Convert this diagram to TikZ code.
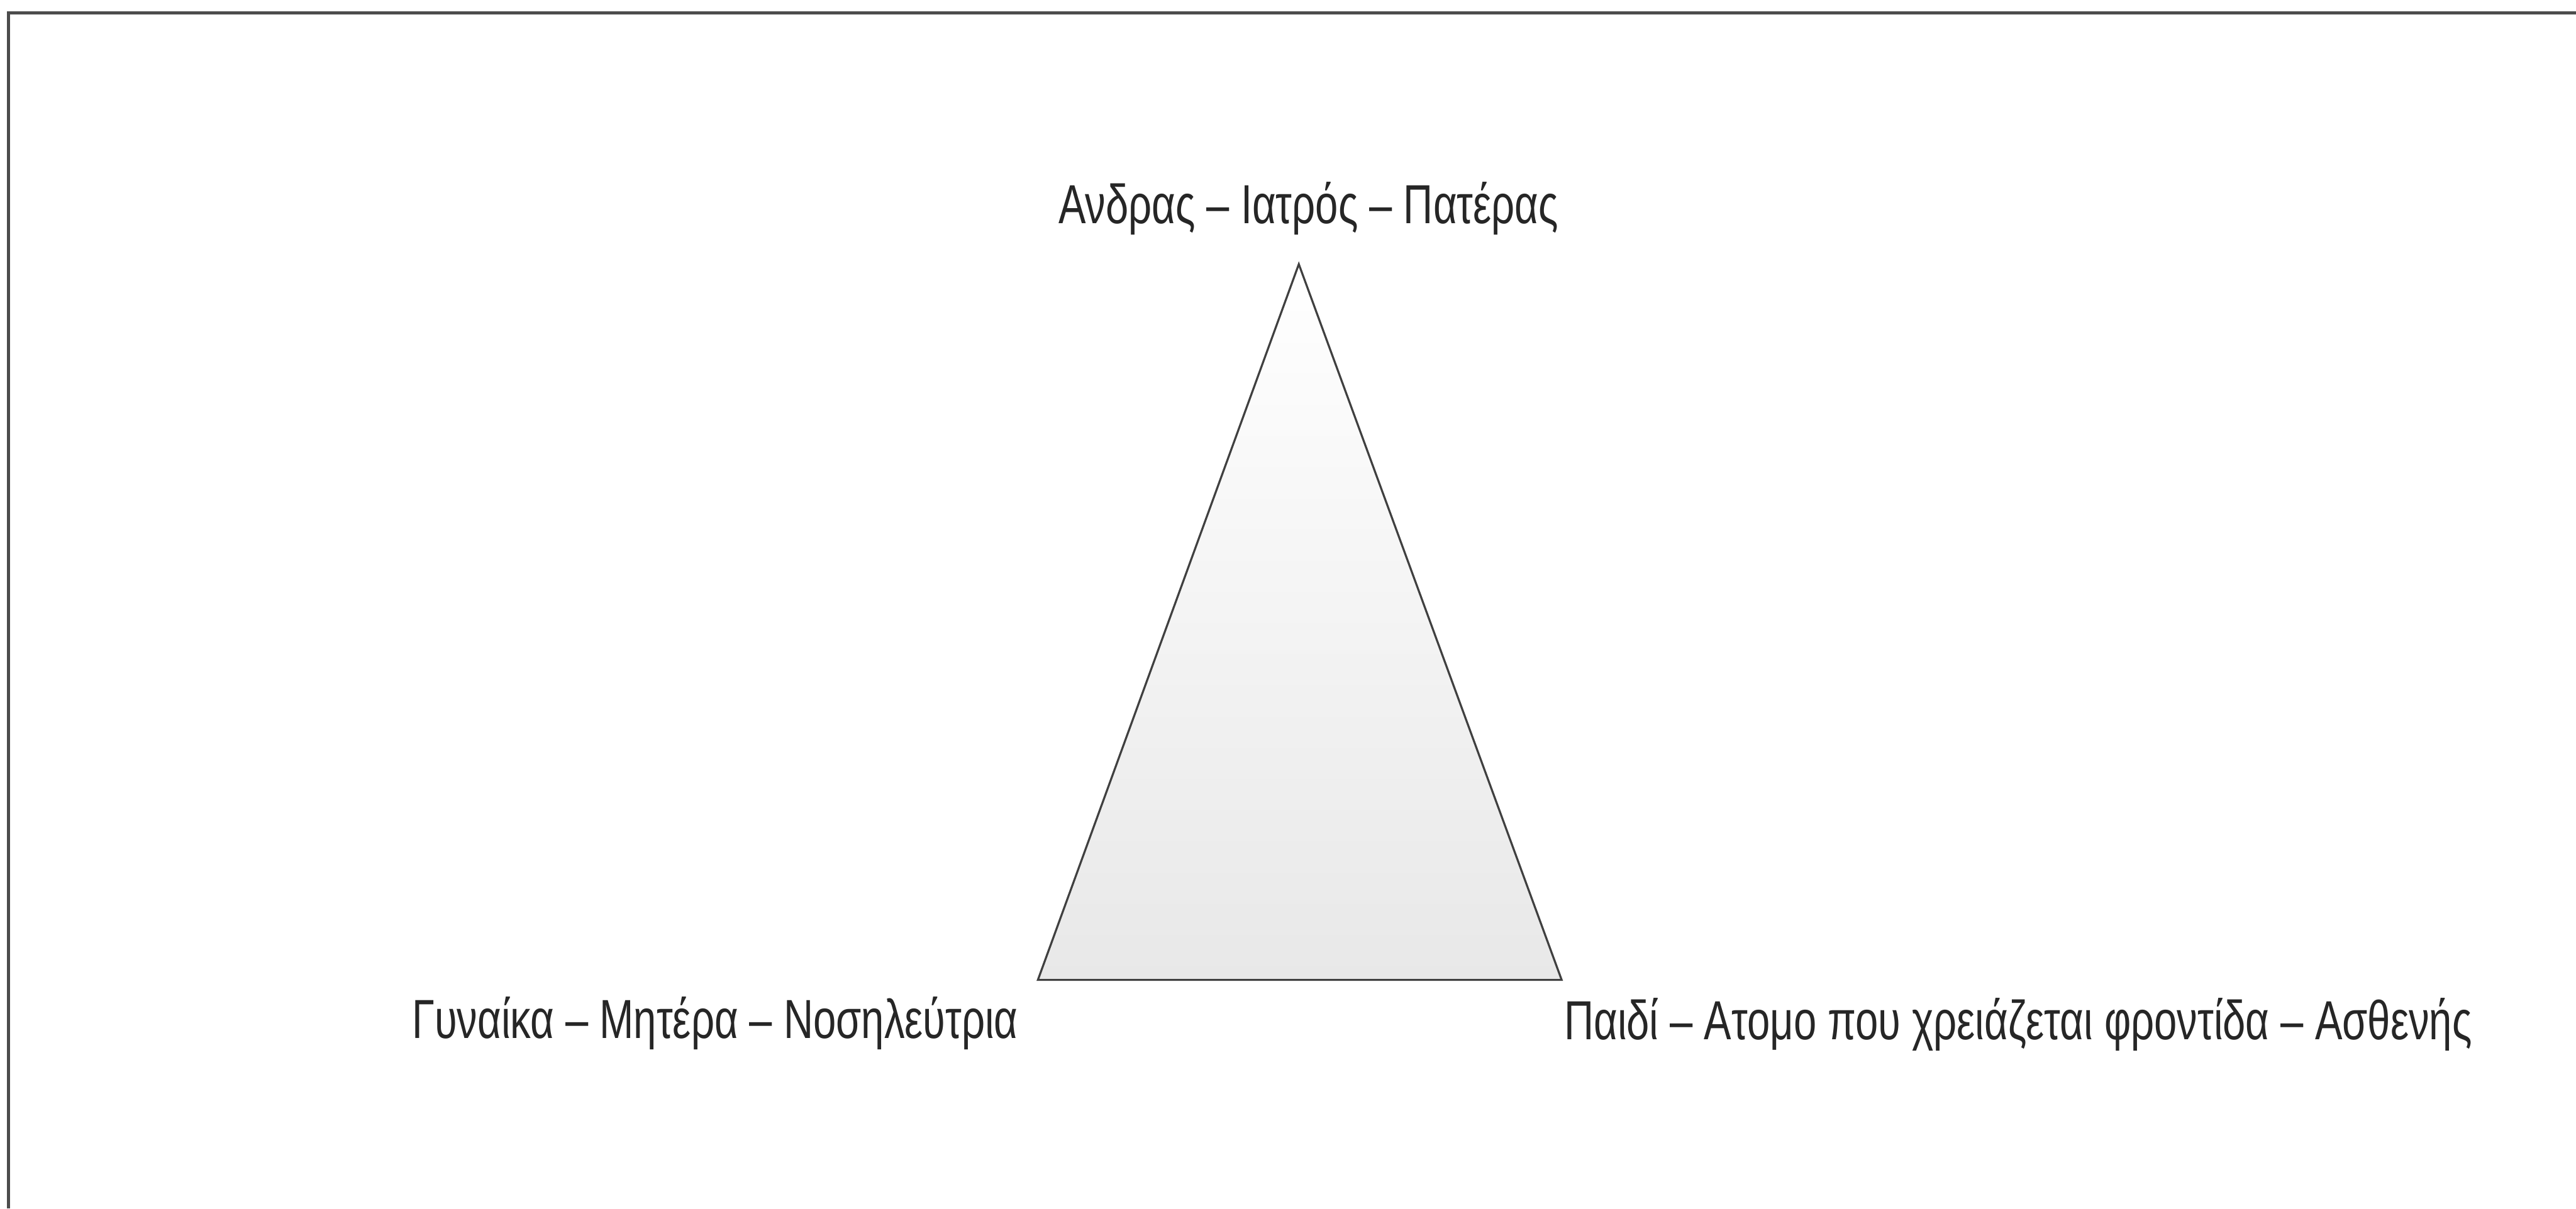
\documentclass[tikz,border=0pt]{standalone}
\usepackage{fontspec}
\usepackage{xcolor}
\setmainfont{Liberation Sans}
\newfontfamily\grfont[FakeStretch=0.745]{Liberation Sans}
\usetikzlibrary{positioning}

\begin{document}
\begin{tikzpicture}[
      scale=1.0,
      %style for the outer frame
      frm/.style={draw=black!70, line width=0.9pt},
      % style for the triangle
      tri/.style={draw=black!75, line width=0.6pt, top color=white, bottom color=black!9},
      % style for the labels
      lbl/.style={inner sep=0pt, text=black!85, font=\grfont\fontsize{16.3}{19}\selectfont}]

      \useasboundingbox (0,0) rectangle (26.805,12.58);

      \coordinate (frmbot) at (0.09,0);
      \coordinate (frmcor) at (0.09,12.445);
      \coordinate (frmend) at (26.805,12.445);
      \draw[frm] (frmbot) -- (frmcor) -- (frmend);

      \coordinate (apex) at (13.515,9.83);
      \coordinate (left) at (10.8,2.38);
      \coordinate (right) at (16.25,2.38);
      \draw[tri] (apex) -- (left) -- (right) -- cycle;

      \node[lbl, anchor=base] (man) at (13.615,10.255) {Ανδρας – Ιατρός – Πατέρας};
      \node[lbl, anchor=base east] (woman) at (10.6,1.77) {Γυναίκα – Μητέρα – Νοσηλεύτρια};
      \node[lbl, anchor=base west] (child) at (16.27,1.76) {Παιδί – Ατομο που χρειάζεται φροντίδα – Ασθενής};

\end{tikzpicture}
\end{document}
